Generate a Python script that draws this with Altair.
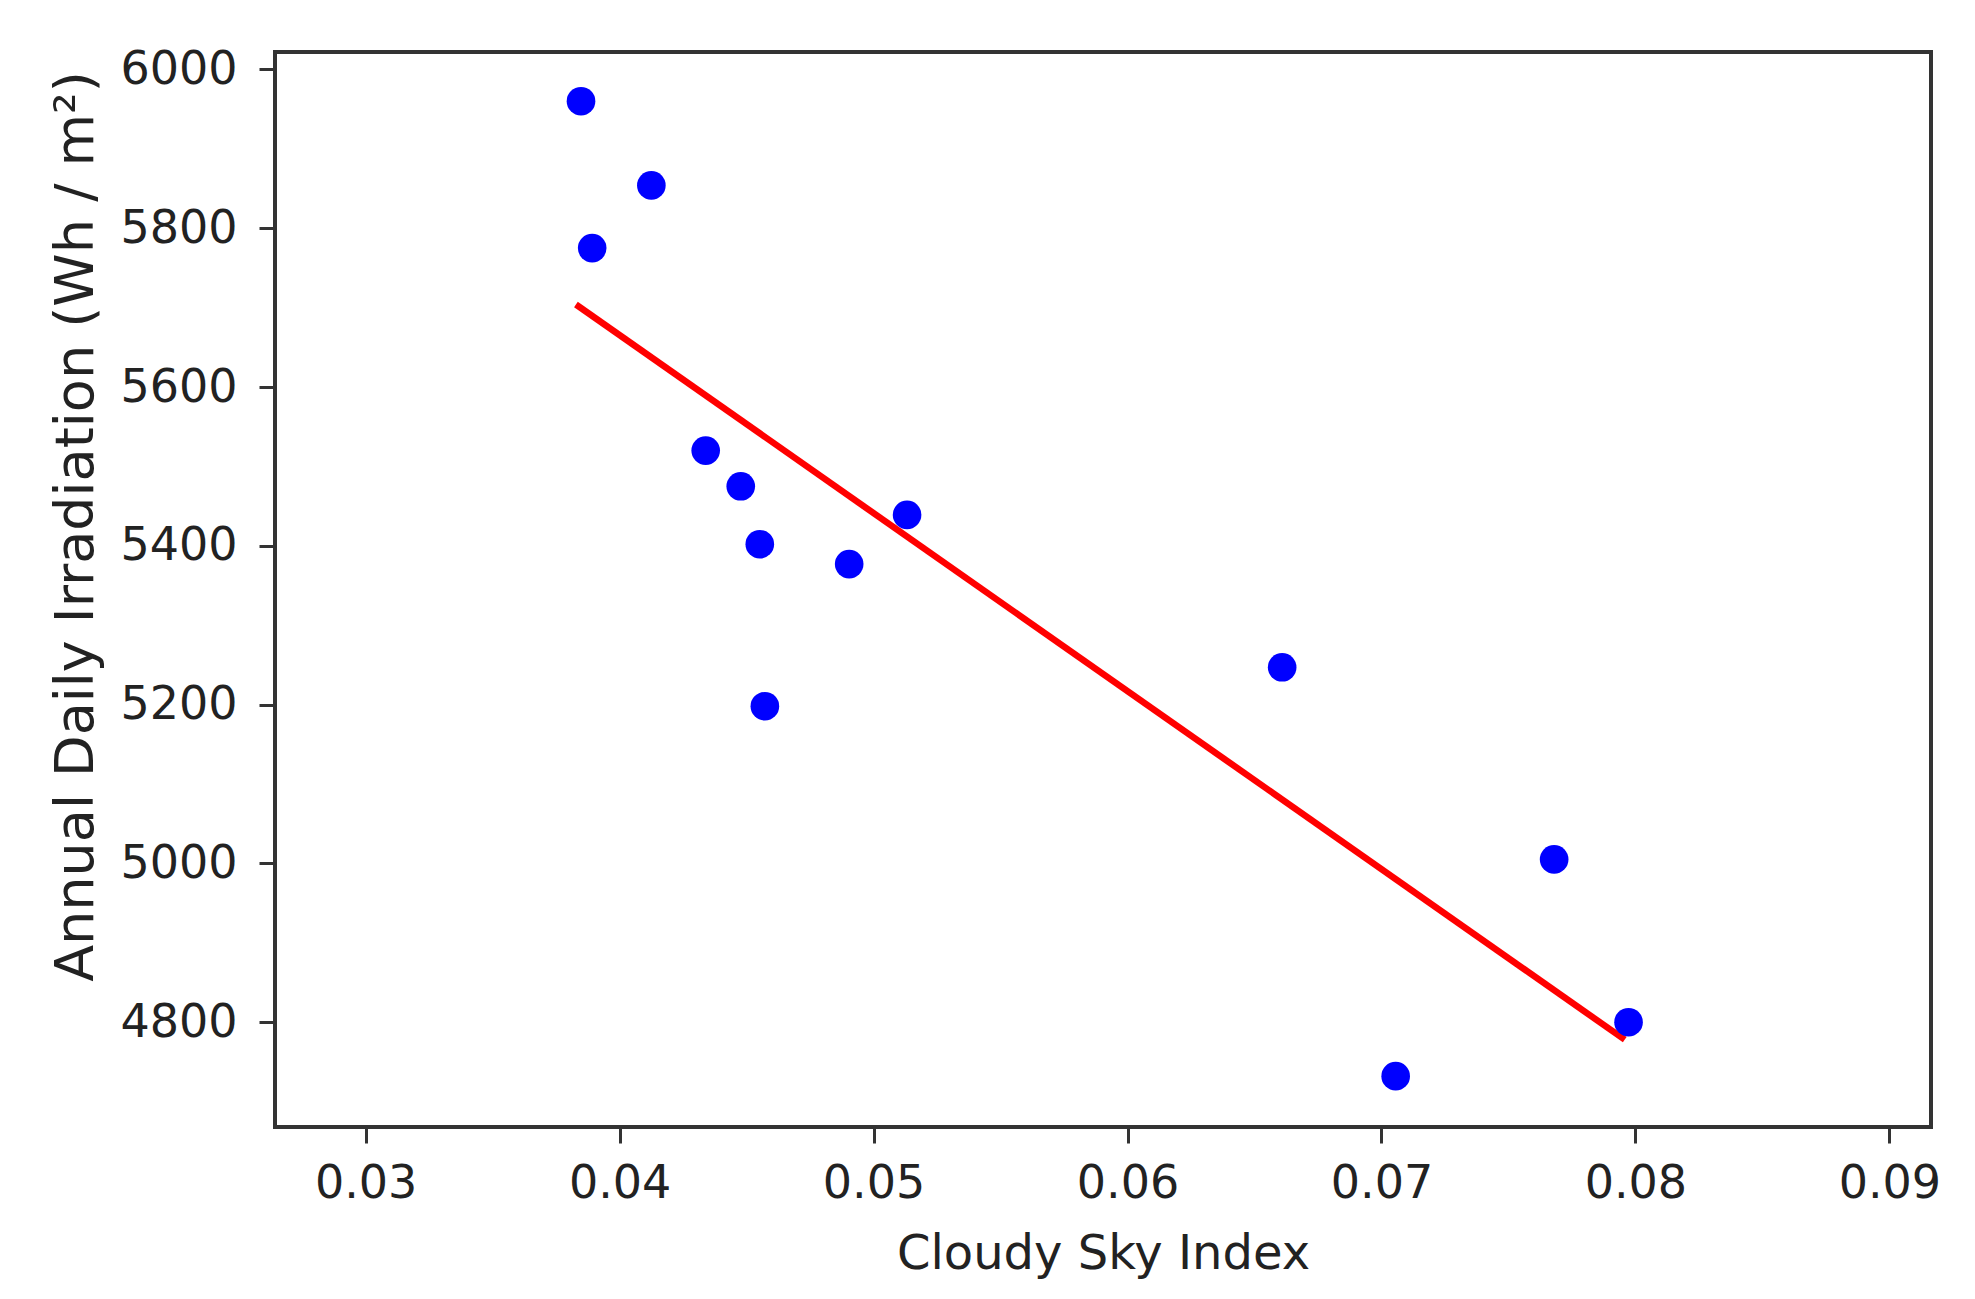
import altair as alt
import pandas as pd

# Scatter data (Cloudy Sky Index vs Annual Daily Irradiation)
csi = [0.03848, 0.04125, 0.03892, 0.04339, 0.04477, 0.04552, 0.04572,
       0.04904, 0.05132, 0.06609, 0.07056, 0.07680, 0.07973]
irr = [5960, 5854, 5775, 5520, 5475, 5402, 5198,
       5377, 5439, 5247, 4732, 5005, 4800]

# Fitted line endpoints
fit_x = [0.03828, 0.07958]
fit_y = [5704, 4778]

x_ticks = [0.03, 0.04, 0.05, 0.06, 0.07, 0.08, 0.09]
y_ticks = [4800, 5000, 5200, 5400, 5600, 5800, 6000]

pts = pd.DataFrame({"x": csi, "y": irr})
fit = pd.DataFrame({"x": fit_x, "y": fit_y})

FONT = "DejaVu Sans"
AX = "#333333"

xscale = alt.Scale(domain=[0.02643, 0.09164], nice=False, zero=False)
yscale = alt.Scale(domain=[4668, 6022], nice=False, zero=False)

xaxis = alt.Axis(
    title="Cloudy Sky Index", values=x_ticks, format=".2f", grid=False,
    labelFont=FONT, labelFontSize=46, labelColor="#222222", labelPadding=18,
    tickSize=16, tickWidth=3, tickColor=AX, domain=False,
    titleFont=FONT, titleFontSize=48, titleFontWeight="normal", titleColor="#222222",
    titleX=828, titleY=141, titleAlign="center", titleBaseline="alphabetic",
)
yaxis = alt.Axis(
    title="Annual Daily Irradiation (Wh / m²)", values=y_ticks, format="d", grid=False,
    labelFont=FONT, labelFontSize=46, labelColor="#222222", labelPadding=22,
    tickSize=16, tickWidth=3, tickColor=AX, domain=False,
    titleFont=FONT, titleFontSize=54, titleFontWeight="normal", titleColor="#222222",
    titleAngle=-90, titleX=-183, titleY=474, titleAlign="center", titleBaseline="alphabetic",
)

line = alt.Chart(fit).mark_line(color="#ff0000", strokeWidth=6.5).encode(
    x=alt.X("x:Q", scale=xscale, axis=xaxis),
    y=alt.Y("y:Q", scale=yscale, axis=yaxis),
)
points = alt.Chart(pts).mark_circle(color="#0000ff", opacity=1, size=820).encode(
    x=alt.X("x:Q", scale=xscale),
    y=alt.Y("y:Q", scale=yscale),
)

chart = alt.layer(line, points).properties(
    width=1656, height=1075,
    background="white",
    autosize=alt.AutoSizeParams(type="none"),
    padding={"left": 267, "top": 44, "right": 36, "bottom": 164},
).configure_view(stroke=AX, strokeWidth=4)

chart.save("out.html", embed_options={"renderer": "svg", "actions": False})
